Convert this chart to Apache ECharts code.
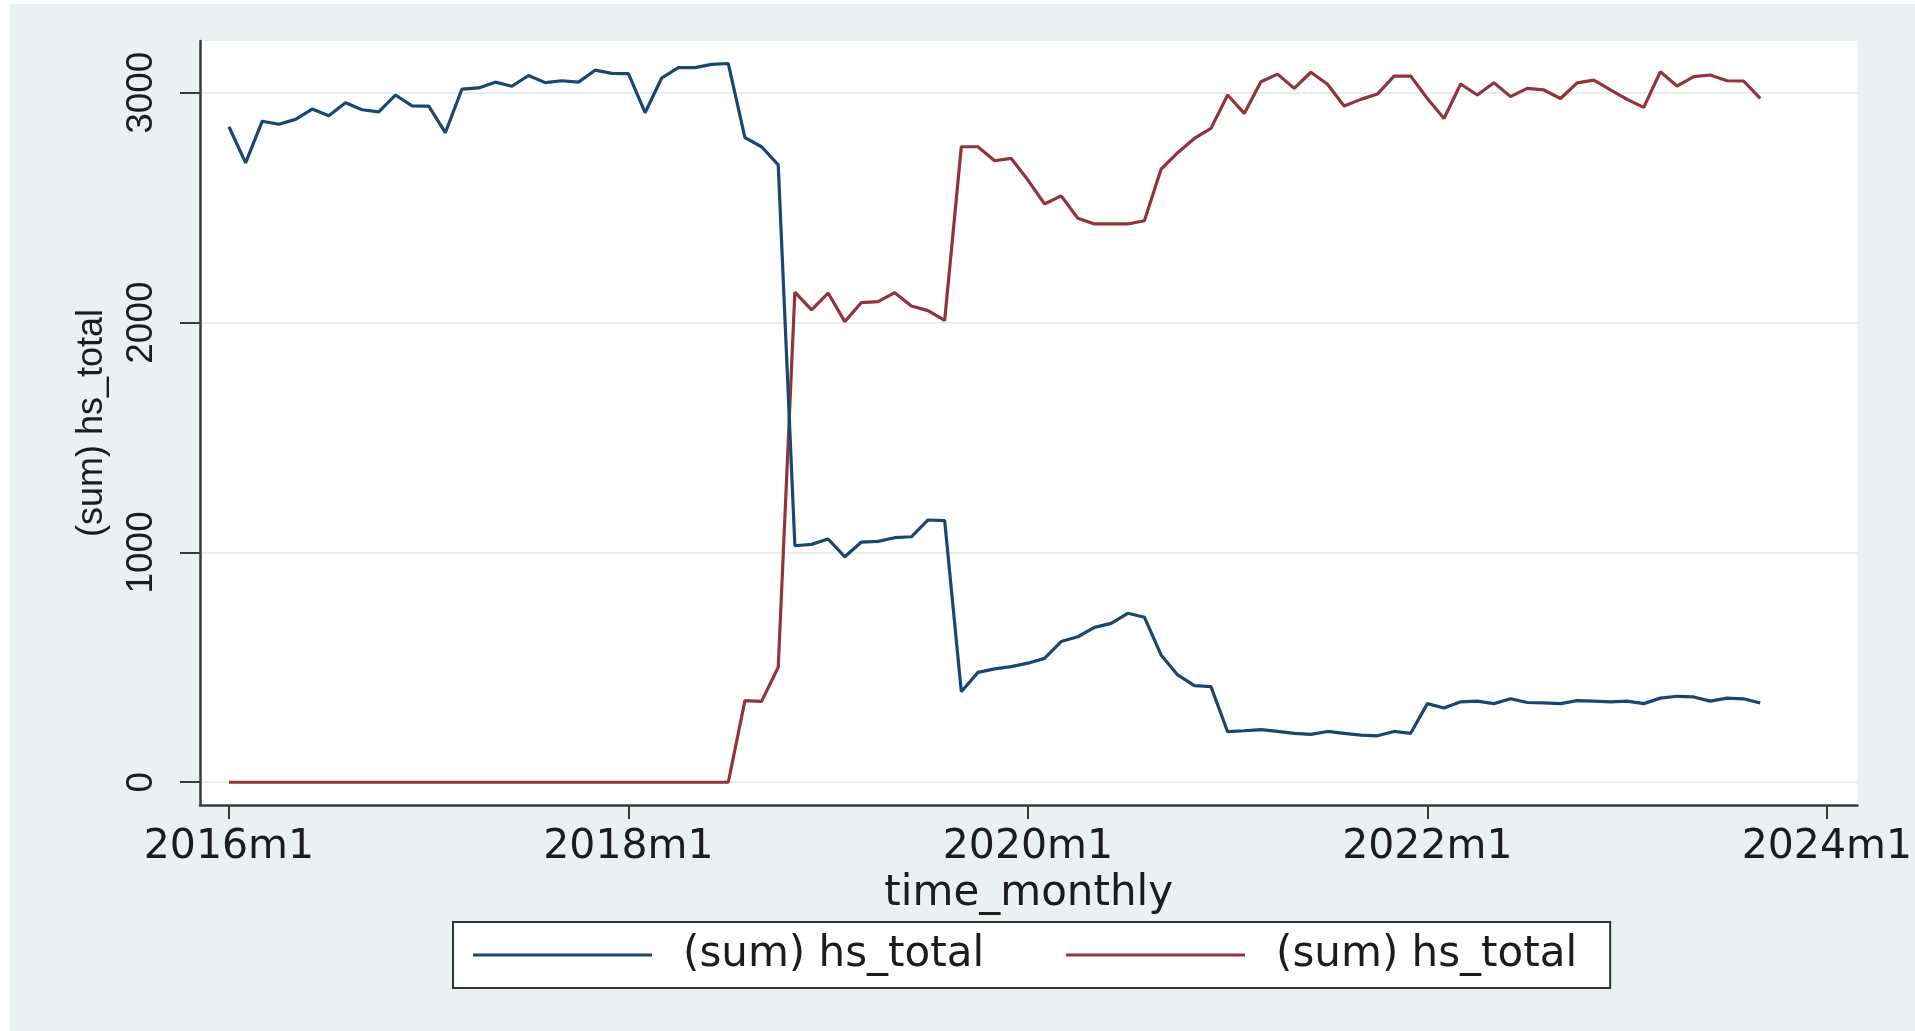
<!DOCTYPE html>
<html>
<head>
<meta charset="utf-8">
<title>(sum) hs_total by time_monthly</title>
<script src="https://cdn.jsdelivr.net/npm/echarts@6/dist/echarts.min.js"></script>
<style>
  html, body { margin: 0; padding: 0; background: #fff; }
  #chart { position: absolute; left: 10px; top: 4px; width: 1905px; height: 1027px; }
</style>
</head>
<body>
<div id="chart"></div>
<script>
// monthly totals, 2016m1 .. 2023m9 (index 0 = 2016m1)
const blueTotal = [
  2852, 2695, 2876, 2863, 2884, 2929, 2900, 2956, 2926, 2917, 2990, 2943,
  2942, 2826, 3016, 3021, 3046, 3028, 3075, 3044, 3052, 3046, 3098, 3084,
  3083, 2913, 3064, 3109, 3109, 3123, 3127, 2805, 2765, 2686, 1029, 1035,
  1058, 981, 1045, 1048, 1064, 1068, 1141, 1138, 394, 478, 493, 503,
  518, 539, 612, 633, 674, 691, 735, 718, 554, 467, 420, 416,
  220, 224, 229, 221, 213, 208, 221, 213, 205, 202, 221, 213,
  342, 323, 350, 353, 342, 363, 347, 345, 342, 355, 353, 350,
  353, 342, 366, 374, 371, 353, 366, 363, 345
]
const redTotal = [
  0, 0, 0, 0, 0, 0, 0, 0, 0, 0, 0, 0,
  0, 0, 0, 0, 0, 0, 0, 0, 0, 0, 0, 0,
  0, 0, 0, 0, 0, 0, 0, 355, 352, 500, 2132, 2055,
  2128, 2004, 2087, 2091, 2130, 2072, 2052, 2009, 2765, 2765, 2704, 2714,
  2620, 2516, 2551, 2454, 2429, 2429, 2429, 2443, 2667, 2739, 2801, 2845,
  2990, 2910, 3048, 3081, 3019, 3089, 3037, 2942, 2971, 2994, 3072, 3072,
  2975, 2888, 3038, 2990, 3043, 2983, 3019, 3012, 2975, 3043, 3055, 3012,
  2971, 2936, 3091, 3029, 3070, 3077, 3052, 3051, 2975
]
const tickMonths = [0, 24, 48, 72, 96]
const tickLabels = ['2016m1', '2018m1', '2020m1', '2022m1', '2024m1']
const yTicks = [0, 1000, 2000, 3000]

const seriesNames = ['hs_total_a', 'hs_total_b']
const legendLabel = '(sum) hs_total'

const chart = echarts.init(document.getElementById('chart'))

const axisColor = '#3a3a3a'
const textColor = '#1c1c1c'

chart.setOption({
  animation: false,
  backgroundColor: '#eaf1f3',
  grid: {
    left: 190,
    top: 37,
    right: 52,
    bottom: 226,
    show: true,
    backgroundColor: '#fff',
    borderWidth: 0
  },
  legend: {
    data: seriesNames,
    left: 443,
    top: 918,
    padding: [12, 33, 12, 20],
    itemGap: 82,
    itemWidth: 179,
    itemHeight: 3,
    icon: 'rect',
    backgroundColor: '#fff',
    borderColor: '#333',
    borderWidth: 2,
    formatter: () => legendLabel,
    textStyle: {
      fontFamily: 'DejaVu Sans',
      fontSize: 42,
      color: textColor,
      padding: [0, 0, 0, 26]
    }
  },
  xAxis: {
    type: 'value',
    min: -1.74,
    max: 97.84,
    name: 'time_monthly',
    nameLocation: 'middle',
    nameGap: 57,
    nameTextStyle: { fontFamily: 'DejaVu Sans', fontSize: 42, color: textColor },
    axisLine: { onZero: false, lineStyle: { color: axisColor, width: 2.5 } },
    axisTick: { customValues: tickMonths, length: 14, lineStyle: { color: axisColor, width: 2 } },
    axisLabel: {
      customValues: tickMonths,
      formatter: v => tickLabels[tickMonths.indexOf(v)],
      fontFamily: 'DejaVu Sans',
      fontSize: 41,
      color: textColor,
      margin: 22
    },
    splitLine: { show: false }
  },
  yAxis: {
    type: 'value',
    min: -99,
    max: 3225,
    name: '(sum) hs_total',
    nameLocation: 'middle',
    nameGap: 90,
    nameTextStyle: { fontFamily: 'Liberation Sans', fontSize: 36, color: textColor },
    axisLine: { show: true, onZero: false, lineStyle: { color: axisColor, width: 2.5 } },
    axisTick: { show: true, customValues: yTicks, length: 20, lineStyle: { color: axisColor, width: 2 } },
    axisLabel: {
      customValues: yTicks,
      formatter: v => String(v),
      rotate: 90,
      fontFamily: 'Liberation Sans',
      fontSize: 37,
      color: textColor,
      margin: 40
    },
    splitLine: { show: true, lineStyle: { color: '#e6eef0', width: 2 } }
  },
  series: [
    {
      name: seriesNames[0],
      type: 'line',
      symbol: 'none',
      data: blueTotal.map((v, i) => [i, v]),
      lineStyle: { color: '#1a476f', width: 3.2 },
      itemStyle: { color: '#1a476f' },
      z: 3
    },
    {
      name: seriesNames[1],
      type: 'line',
      symbol: 'none',
      data: redTotal.map((v, i) => [i, v]),
      lineStyle: { color: '#90353b', width: 3.2 },
      itemStyle: { color: '#90353b' },
      z: 2
    }
  ]
})
</script>
</body>
</html>
